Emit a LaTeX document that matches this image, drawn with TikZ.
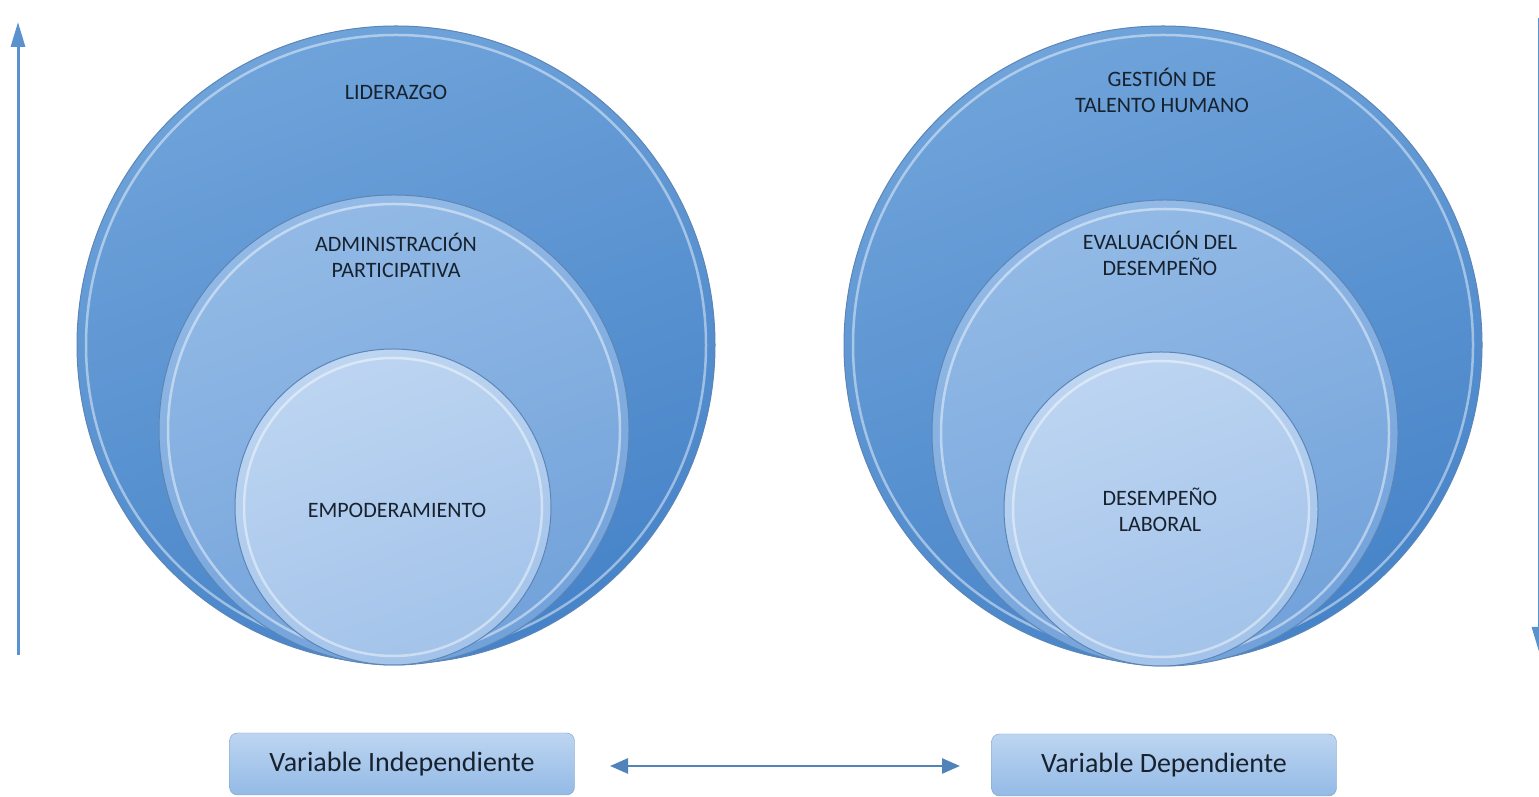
\documentclass[tikz,border=0pt]{standalone}
\usepackage{fontspec}
\setmainfont{Carlito}
\usepackage{tikz}
\usetikzlibrary{arrows.meta,positioning,calc}

\definecolor{ringA}{HTML}{6FA3DA}
\definecolor{ringAdark}{HTML}{4683C8}
\definecolor{ringB}{HTML}{93BAE6}
\definecolor{ringBdark}{HTML}{72A2DA}
\definecolor{ringC}{HTML}{BDD5F1}
\definecolor{ringCdark}{HTML}{A3C3EA}
\definecolor{ringEdge}{HTML}{5C86B6}
\definecolor{txtNavy}{HTML}{18222F}
\definecolor{arrowBlue}{HTML}{5A92D0}

\tikzset{
    ring/.style={circle, inner sep=0pt, draw=ringEdge, line width=1pt,
        path picture={
            \draw[white, opacity=.45, line width=2.5pt]
                let \p1=(path picture bounding box.north),
                    \p2=(path picture bounding box.center),
                    \n1={\y1-\y2-9pt} in (\p2) circle[radius=\n1];
        }},
    outerRing/.style={ring, top color=ringA, bottom color=ringAdark, shading angle=20},
    middleRing/.style={ring, top color=ringB, bottom color=ringBdark, shading angle=20},
    innerRing/.style={ring, top color=ringC, bottom color=ringCdark, shading angle=20},
    lbl/.style={align=center, text=txtNavy, font=\fontsize{22}{26}\selectfont},
    varbox/.style={draw=ringEdge!80, rounded corners=8pt, top color=ringC, bottom color=ringB,
        minimum width=345pt, minimum height=62pt, text=txtNavy, font=\fontsize{28}{32}\selectfont},
    axis/.style={arrowBlue, line width=3pt, -{Triangle[length=25pt, width=14pt]}}
}

\begin{document}
\begin{tikzpicture}[x=1pt,y=1pt]
    \useasboundingbox (0,0) rectangle (1539,797);

    % Left side rings
    \node[outerRing, minimum size=638pt] (lidOuter) at (396,452) {};
    \node[middleRing, minimum size=470pt] (lidMiddle) at (394,367) {};
    \node[innerRing, minimum size=316pt] (lidInner) at (393,290) {};

    \node[lbl] (lidText) at (396,705) {LIDERAZGO};
    \node[lbl] (admText) at (396,542) {ADMINISTRACIÓN\\PARTICIPATIVA};
    \node[lbl] (empText) at (397,287) {EMPODERAMIENTO};

    % Right side rings
    \node[outerRing, minimum size=638pt] (gesOuter) at (1163,452) {};
    \node[middleRing, minimum size=466pt] (gesMiddle) at (1165,364) {};
    \node[innerRing, minimum size=314pt] (gesInner) at (1161,288) {};

    \node[lbl] (gesText) at (1162,707) {GESTIÓN DE\\TALENTO HUMANO};
    \node[lbl] (evaText) at (1160,544) {EVALUACIÓN DEL\\DESEMPEÑO};
    \node[lbl] (desText) at (1160,287) {DESEMPEÑO\\LABORAL};

    % Variable boxes
    \node[varbox] (varInd) at (402,33) {Variable Independiente};
    \node[varbox] (varDep) at (1164,32) {Variable Dependiente};

    % Arrows
    \coordinate (leftLow) at (18,142);
    \coordinate (leftHigh) at (18,775);
    \coordinate (rightHigh) at (1539,779);
    \coordinate (rightLow) at (1539,145);
    \coordinate (midL) at (610,31);
    \coordinate (midR) at (960,31);

    \draw[axis] (leftLow) -- (leftHigh);
    \draw[axis] (rightHigh) -- (rightLow);
    \draw[arrowBlue!90!black, line width=2.5pt, {Triangle[length=18pt, width=15pt]}-{Triangle[length=18pt, width=15pt]}] (midL) -- (midR);
\end{tikzpicture}
\end{document}
